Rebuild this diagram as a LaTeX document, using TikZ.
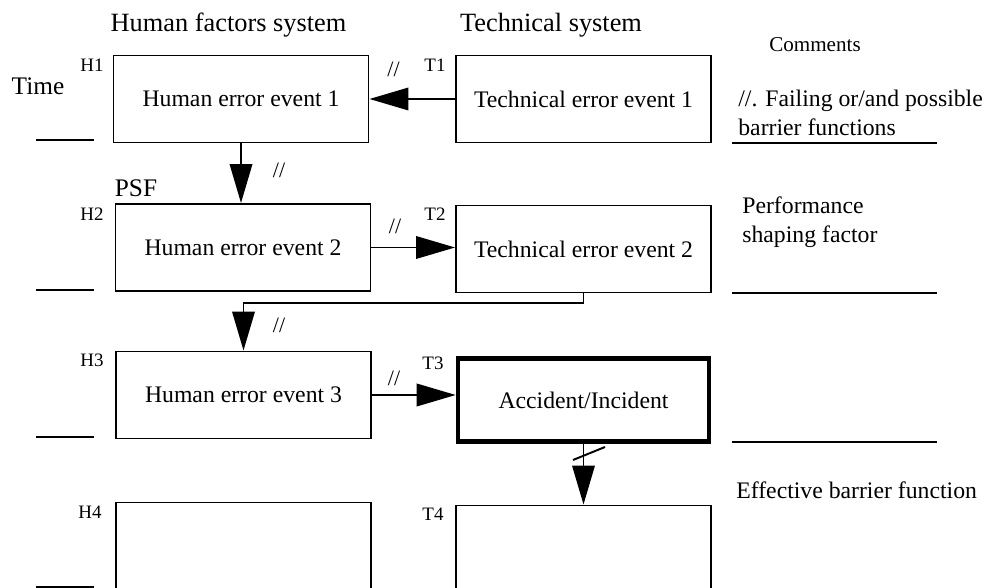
\documentclass[tikz,border=0pt]{standalone}
\usepackage{fontspec}
\setmainfont{Liberation Serif}
\usepackage{tikz}
\usetikzlibrary{arrows.meta}
\tikzset{
  evbox/.style={draw, line width=1.1pt, minimum width=5.1cm, minimum height=1.74cm, inner sep=0pt, font=\fontsize{13.5}{16}\selectfont},
  accbox/.style={evbox, line width=2.6pt, minimum width=5.02cm, minimum height=1.66cm},
  lbl/.style={inner sep=0pt, font=\fontsize{10.8}{12}\selectfont},
  head/.style={inner sep=0pt, anchor=base, font=\fontsize{15}{18}\selectfont},
  side/.style={inner sep=0pt, anchor=base, font=\fontsize{14.4}{17}\selectfont},
  note/.style={inner sep=0pt, anchor=base west, align=left, font=\fontsize{13.5}{16.5}\selectfont},
  brk/.style={inner sep=0pt, font=\fontsize{12.5}{14}\selectfont},
  flow/.style={line width=1.1pt, -{Triangle[length=7.8mm,width=4.5mm]}}
}

\begin{document}
\begin{tikzpicture}
\useasboundingbox (0,0) rectangle (19.7,11.76);
\clip (0,0) rectangle (19.7,11.76);

\node[head] (hhead) at (4.57,11.12) {Human factors system};
\node[head] (thead) at (11.02,11.12) {Technical system};
\node[inner sep=0pt, anchor=base, font=\fontsize{12}{14}\selectfont] (chead) at (16.3,10.72) {Comments};
\node[side] (time) at (0.76,9.86) {Time};
\node[side] (psf) at (2.72,7.82) {PSF};

\node[evbox] (h1) at (4.82,9.78) {Human error event 1};
\node[evbox] (h2) at (4.86,6.81) {Human error event 2};
\node[evbox] (h3) at (4.87,3.86) {Human error event 3};
\node[evbox] (h4) at (4.87,0.84) {};
\node[evbox] (t1) at (11.67,9.78) {Technical error event 1};
\node[evbox] (t2) at (11.67,6.78) {Technical error event 2};
\node[accbox] (t3) at (11.67,3.76) {Accident/Incident};
\node[evbox] (t4) at (11.67,0.78) {};

\node[lbl] (lh1) at (1.84,10.46) {H1};
\node[lbl] (lh2) at (1.84,7.47) {H2};
\node[lbl] (lh3) at (1.84,4.55) {H3};
\node[lbl] (lh4) at (1.80,1.51) {H4};
\node[lbl] (lt1) at (8.70,10.46) {T1};
\node[lbl] (lt2) at (8.70,7.47) {T2};
\node[lbl] (lt3) at (8.66,4.49) {T3};
\node[lbl] (lt4) at (8.66,1.47) {T4};

% flows between the events
\draw[flow] (t1.west) -- (h1.east);
\draw[flow] (h1.south) -- (h1.south |- h2.north);
\draw[flow] (h2.east) -- (h2.east -| t2.west);
\draw[flow] (t2.south) -- ++(0,-0.2) -| (h3.north);
\draw[flow] (h3.east) -- (h3.east -| t3.west);
\draw[flow] (t3.south) -- (t4.north);
\draw[line width=1.1pt] (11.46,2.56) -- (12.10,2.82);

\node[brk] (b1) at (7.87,10.38) {//};
\node[brk] (b2) at (5.58,8.36) {//};
\node[brk] (b3) at (7.90,7.23) {//};
\node[brk] (b4) at (5.58,5.26) {//};
\node[brk] (b5) at (7.88,4.19) {//};

\node[note] (c1) at (14.76,9.04) {//. Failing or/and possible\\barrier functions};
\node[note] (c2) at (14.84,6.9) {Performance\\shaping factor};
\node[note] (c3) at (14.72,1.78) {Effective barrier function};

% time marks
\foreach \y in {8.96,5.96,3.02,0.02}
  \draw[line width=1.1pt] (0.72,\y) -- (1.88,\y);
\foreach \y in {8.9,5.9,2.92}
  \draw[line width=1.1pt] (14.64,\y) -- (18.74,\y);
\end{tikzpicture}
\end{document}
